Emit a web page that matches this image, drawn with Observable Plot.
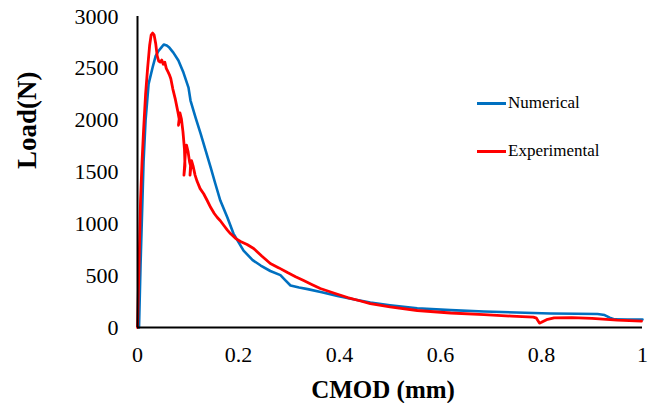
<!DOCTYPE html>
<html>
<head>
<meta charset="utf-8">
<script src="https://cdn.jsdelivr.net/npm/d3@7"></script>
<script src="https://cdn.jsdelivr.net/npm/@observablehq/plot@0.6"></script>
<style>
  html, body { margin: 0; padding: 0; background: #fff; }
  #wrap { position: relative; width: 662px; height: 403px; font-family: "Liberation Serif", "Times New Roman", serif; }
  #wrap svg, #wrap svg text { font-family: "Liberation Serif", "Times New Roman", serif !important; }
  #legend { position: absolute; left: 477px; top: 90px; font-size: 17px; color: #000; }
  .item { display: flex; align-items: center; height: 26px; }
  .item + .item { margin-top: 22px; }
  .swatch { width: 29px; height: 3px; margin-right: 2px; }
</style>
</head>
<body>
<div id="wrap"></div>
<script>
// Numerical (blue) curve
const numX = [0.003, 0.006, 0.009, 0.012, 0.016, 0.022, 0.030, 0.036, 0.042, 0.047, 0.052, 0.058, 0.063, 0.071, 0.081, 0.091, 0.101, 0.105, 0.115, 0.125, 0.135, 0.145, 0.154, 0.164, 0.178, 0.190, 0.210, 0.228, 0.244, 0.263, 0.283, 0.292, 0.303, 0.320, 0.337, 0.365, 0.396, 0.430, 0.461, 0.500, 0.554, 0.620, 0.686, 0.750, 0.818, 0.870, 0.911, 0.925, 0.935, 0.945, 0.970, 1.000];
const numY = [0, 600, 1100, 1600, 2000, 2350, 2510, 2620, 2670, 2700, 2730, 2720, 2700, 2652, 2575, 2459, 2314, 2189, 2025, 1871, 1707, 1543, 1389, 1225, 1061, 906, 742, 650, 598, 545, 505, 460, 405, 385, 370, 340, 305, 270, 240, 215, 185, 168, 154, 145, 135, 132, 130, 120, 95, 78, 77, 77];

// Experimental (red) curve
const expX = [0.000, 0.003, 0.006, 0.009, 0.012, 0.016, 0.020, 0.024, 0.027, 0.030, 0.033, 0.036, 0.039, 0.042, 0.045, 0.048, 0.051, 0.054, 0.057, 0.060, 0.063, 0.066, 0.070, 0.075, 0.080, 0.083, 0.081, 0.084, 0.087, 0.090, 0.093, 0.094, 0.092, 0.095, 0.097, 0.100, 0.103, 0.105, 0.104, 0.107, 0.110, 0.114, 0.118, 0.124, 0.131, 0.138, 0.145, 0.152, 0.158, 0.164, 0.171, 0.178, 0.184, 0.194, 0.204, 0.217, 0.230, 0.246, 0.263, 0.280, 0.297, 0.313, 0.329, 0.345, 0.362, 0.390, 0.416, 0.440, 0.461, 0.500, 0.554, 0.620, 0.686, 0.740, 0.784, 0.790, 0.796, 0.800, 0.810, 0.825, 0.860, 0.900, 0.950, 0.998];
const expY = [0, 600, 1225, 1600, 1900, 2250, 2500, 2720, 2820, 2840, 2820, 2740, 2620, 2570, 2560, 2580, 2540, 2560, 2500, 2470, 2440, 2400, 2300, 2200, 2080, 2000, 1950, 2070, 2010, 1890, 1720, 1560, 1470, 1700, 1760, 1700, 1600, 1560, 1470, 1610, 1560, 1470, 1410, 1340, 1290, 1225, 1157, 1100, 1061, 1030, 984, 940, 906, 860, 830, 800, 762, 690, 617, 575, 530, 490, 453, 415, 376, 330, 289, 258, 231, 200, 164, 140, 125, 110, 100, 90, 42, 50, 75, 92, 95, 88, 72, 62];

const xTicks = [0, 0.2, 0.4, 0.6, 0.8, 1];
const yTicks = [0, 500, 1000, 1500, 2000, 2500, 3000];
const xLabel = "CMOD (mm)";
const yLabel = "Load(N)";
const seriesNames = ["Numerical", "Experimental"];
const seriesColors = ["#0070C0", "#FF0000"];

const numData = numX.map((x, i) => ({x, y: numY[i]}));
const expData = expX.map((x, i) => ({x, y: expY[i]}));

const chart = Plot.plot({
  width: 662,
  height: 403,
  marginLeft: 137,
  marginRight: 20,
  marginTop: 16,
  marginBottom: 76,
  style: {fontFamily: "'Liberation Serif', 'Times New Roman', serif", background: "#fff", color: "#000"},
  x: {domain: [0, 1], ticks: xTicks, tickFormat: d => String(d)},
  y: {domain: [0, 3000], ticks: yTicks, tickFormat: d => String(d)},
  marks: [
    Plot.axisX({ticks: xTicks, tickFormat: d => String(d), tickSize: 0, tickPadding: 19, fontSize: 22, label: null}),
    Plot.axisY({ticks: yTicks, tickFormat: d => String(d), tickSize: 0, tickPadding: 19, fontSize: 22, label: null}),
    Plot.line(numData, {x: "x", y: "y", stroke: seriesColors[0], strokeWidth: 2.6, curve: "linear"}),
    Plot.line(expData, {x: "x", y: "y", stroke: seriesColors[1], strokeWidth: 2.8, curve: "linear"}),
    Plot.ruleX([0], {stroke: "#000", strokeWidth: 2}),
    Plot.ruleY([0], {stroke: "#000", strokeWidth: 2}),
    Plot.text([xLabel], {text: d => d, frameAnchor: "bottom", lineAnchor: "bottom", dy: 70, dx: -7, fontSize: 25, fontWeight: "bold"}),
    Plot.text([yLabel], {text: d => d, frameAnchor: "left", rotate: -90, dx: -110, dy: -3, fontSize: 27, fontWeight: "bold"})
  ]
});

const wrap = document.getElementById("wrap");
wrap.appendChild(chart);

const legend = document.createElement("div");
legend.id = "legend";
seriesNames.forEach((name, i) => {
  const item = document.createElement("div");
  item.className = "item";
  const sw = document.createElement("span");
  sw.className = "swatch";
  sw.style.background = seriesColors[i];
  const label = document.createElement("span");
  label.textContent = name;
  item.appendChild(sw);
  item.appendChild(label);
  legend.appendChild(item);
});
wrap.appendChild(legend);
</script>
</body>
</html>
